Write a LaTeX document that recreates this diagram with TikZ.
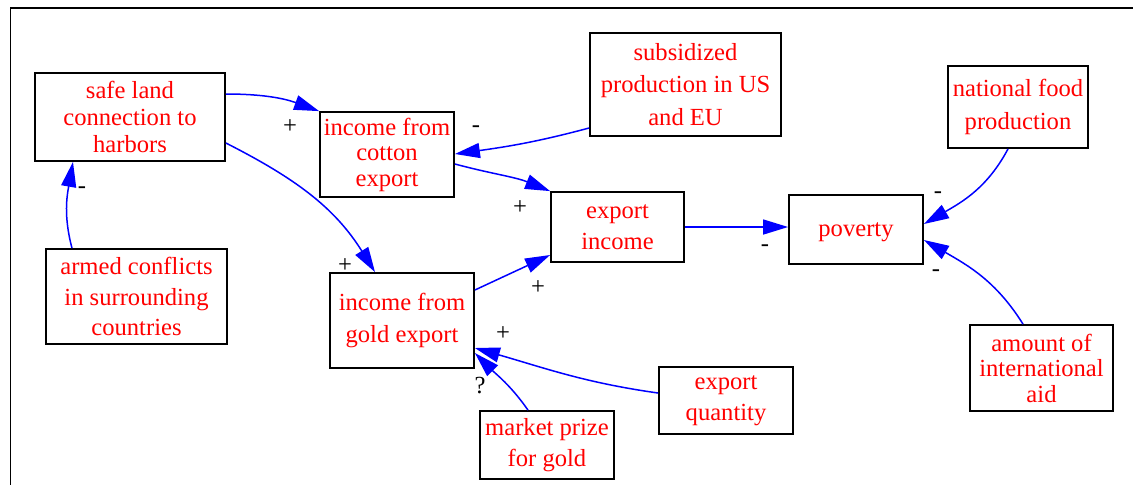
\documentclass[tikz,border=0pt]{standalone}
\usepackage{fontspec}
\setmainfont{Liberation Serif}
\newfontfamily\labelface{Liberation Serif}
\usetikzlibrary{arrows.meta}
\begin{document}
\begin{tikzpicture}[x=0.5pt,y=-0.5pt,
  box/.style={draw, line width=0.9pt, text=red, align=center, inner sep=0pt,
    font=\labelface\fontsize{12.3}{13.5}\selectfont},
  lines/.style={font=\labelface\fontsize{12.3}{#1}\selectfont},
  link/.style={draw=blue, line width=0.75pt,
    -{Triangle[length=12.5pt,width=7.5pt,fill=blue]}},
  sign/.style={font=\labelface\fontsize{12.3}{13.5}\selectfont, text=black, inner sep=0pt}]
\useasboundingbox (0,0) rectangle (1133,484);
\clip (0,0) rectangle (1133,484);
% outer frame
\draw[line width=0.9pt] (10.5,500) -- (10.5,8) -- (1150,8);

% variables
\node[box, minimum width=95pt, minimum height=44pt] (safe) at (130,117)
  {safe land\\connection to\\harbors};
\node[box, lines=12.75pt, minimum width=67pt, minimum height=42.5pt] (cotton) at (387,154.5)
  {income from\\cotton\\export};
\node[box, lines=16.25pt, minimum width=95.5pt, minimum height=51.5pt] (subs) at (685.5,84.5)
  {subsidized\\production in US\\and EU};
\node[box, lines=16.5pt, minimum width=70pt, minimum height=41pt] (food) at (1018,107)
  {national food\\production};
\node[box, lines=15.5pt, minimum width=66.5pt, minimum height=35pt] (expinc) at (617.5,227)
  {export\\income};
\node[box, text depth=0pt, minimum width=67pt, minimum height=34.5pt] (pov) at (856,229.5)
  {poverty};
\node[box, lines=15.25pt, minimum width=90.5pt, minimum height=47.5pt] (armed) at (136.5,296.5)
  {armed conflicts\\in surrounding\\countries};
\node[box, lines=16pt, minimum width=72pt, minimum height=47.5pt] (gold) at (402,320.5)
  {income from\\gold export};
\node[box, lines=15.5pt, minimum width=67pt, minimum height=33.5pt] (qty) at (726,400.5)
  {export\\quantity};
\node[box, lines=15.5pt, minimum width=67pt, minimum height=34pt] (prize) at (547,445)
  {market prize\\for gold};
\node[box, lines=12.75pt, minimum width=71.5pt, minimum height=43pt] (aid) at (1041.5,368)
  {amount of\\international\\aid};

% causal links
\draw[link] (safe.east |- 0,94) to[out=0,in=160] (cotton.north west);
\draw[link] (safe.east |- 0,143) to[out=-27,in=122] (gold.north -| 375,0);
\draw[link] (armed.north -| 72,0) to[out=105,in=-100] (safe.south -| 73,0);
\draw[link] (subs.south west |- 0,128) to[out=195,in=8] (cotton.east |- 0,154);
\draw[link] (cotton.east |- 0,164) to[out=-15,in=158] (expinc.north west);
\draw[link] (gold.east |- 0,290) to[out=25,in=205] (expinc.south west |- 0,255);
\draw[link] (expinc.east) -- (pov.west |- expinc.east);
\draw[link] (food.south -| 1008,0) to[out=-118,in=30] (pov.east |- 0,224);
\draw[link] (aid.north -| 1023,0) to[out=122,in=-30] (pov.east |- 0,240);
\draw[link] (qty.west |- 0,393) to[out=172,in=-16] (gold.east |- 0,348);
\draw[link] (prize.north -| 528,0) to[out=125,in=-45] (gold.east |- 0,353);

% polarities
\node[sign] (s1) at (290,127) {+};
\node[sign] (s2) at (345,266) {+};
\node[sign] (s3) at (82,190) {-};
\node[sign] (s4) at (476,129) {-};
\node[sign] (s5) at (520,208) {+};
\node[sign] (s6) at (538,288) {+};
\node[sign] (s7) at (765,248) {-};
\node[sign] (s8) at (938,195) {-};
\node[sign] (s9) at (936,273) {-};
\node[sign] (s10) at (503,334) {+};
\node[sign] (s11) at (480,386) {?};
\end{tikzpicture}
\end{document}
